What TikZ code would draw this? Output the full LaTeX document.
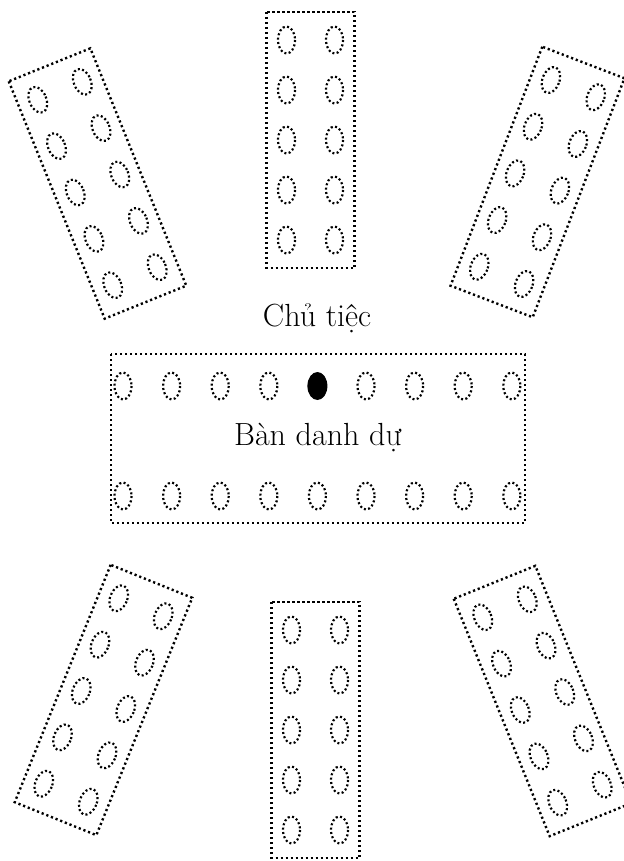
\documentclass[tikz,border=0pt]{standalone}
\usepackage{fontspec}
\begin{document}
\begin{tikzpicture}[x=0.5pt,y=-0.5pt,
    vien/.style={line width=1.2pt,dash pattern=on 1.1pt off 1.4pt},
    ghe/.style={line width=1.1pt,dash pattern=on 1pt off 1.2pt},
    chu/.style={font=\fontsize{16}{19}\selectfont}]
    \useasboundingbox (0,0) rectangle (624,861);

    % Sáu bàn khách: tâm x / tâm y / góc xoay
    \foreach \cx/\cy/\goc in {97.5/183.5/22, 310.5/140/0, 537.5/182/-21,
                              103.5/700/-22, 315.5/730/0, 542.5/701/22}{
      \begin{scope}[shift={(\cx,\cy)},rotate=\goc]
        \draw[vien] (-44,-128) rectangle (44,128);
        \foreach \v in {-100,-50,0,50,100}{
          \draw[ghe] (-24,\v) ellipse [x radius=8.5,y radius=13.5];
          \draw[ghe] (24,\v) ellipse [x radius=8.5,y radius=13.5];
        }
      \end{scope}
    }

    % Bàn danh dự
    \draw[vien] (111,354) rectangle (525,523);
    \foreach \k in {0,1,2,3,5,6,7,8}
      \draw[ghe] ({123+48.6*\k},386) ellipse [x radius=8.5,y radius=13.5];
    \foreach \k in {0,...,8}
      \draw[ghe] ({123+48.6*\k},496) ellipse [x radius=8.5,y radius=13.5];

    % Chỗ ngồi của chủ tiệc
    \fill (317.4,386) ellipse [x radius=10,y radius=14];

    % Chữ
    \node[chu] (chutiec) at (317,318) {Chủ tiệc};
    \node[chu] (bandanhdu) at (318,438) {Bàn danh dự};
\end{tikzpicture}
\end{document}
